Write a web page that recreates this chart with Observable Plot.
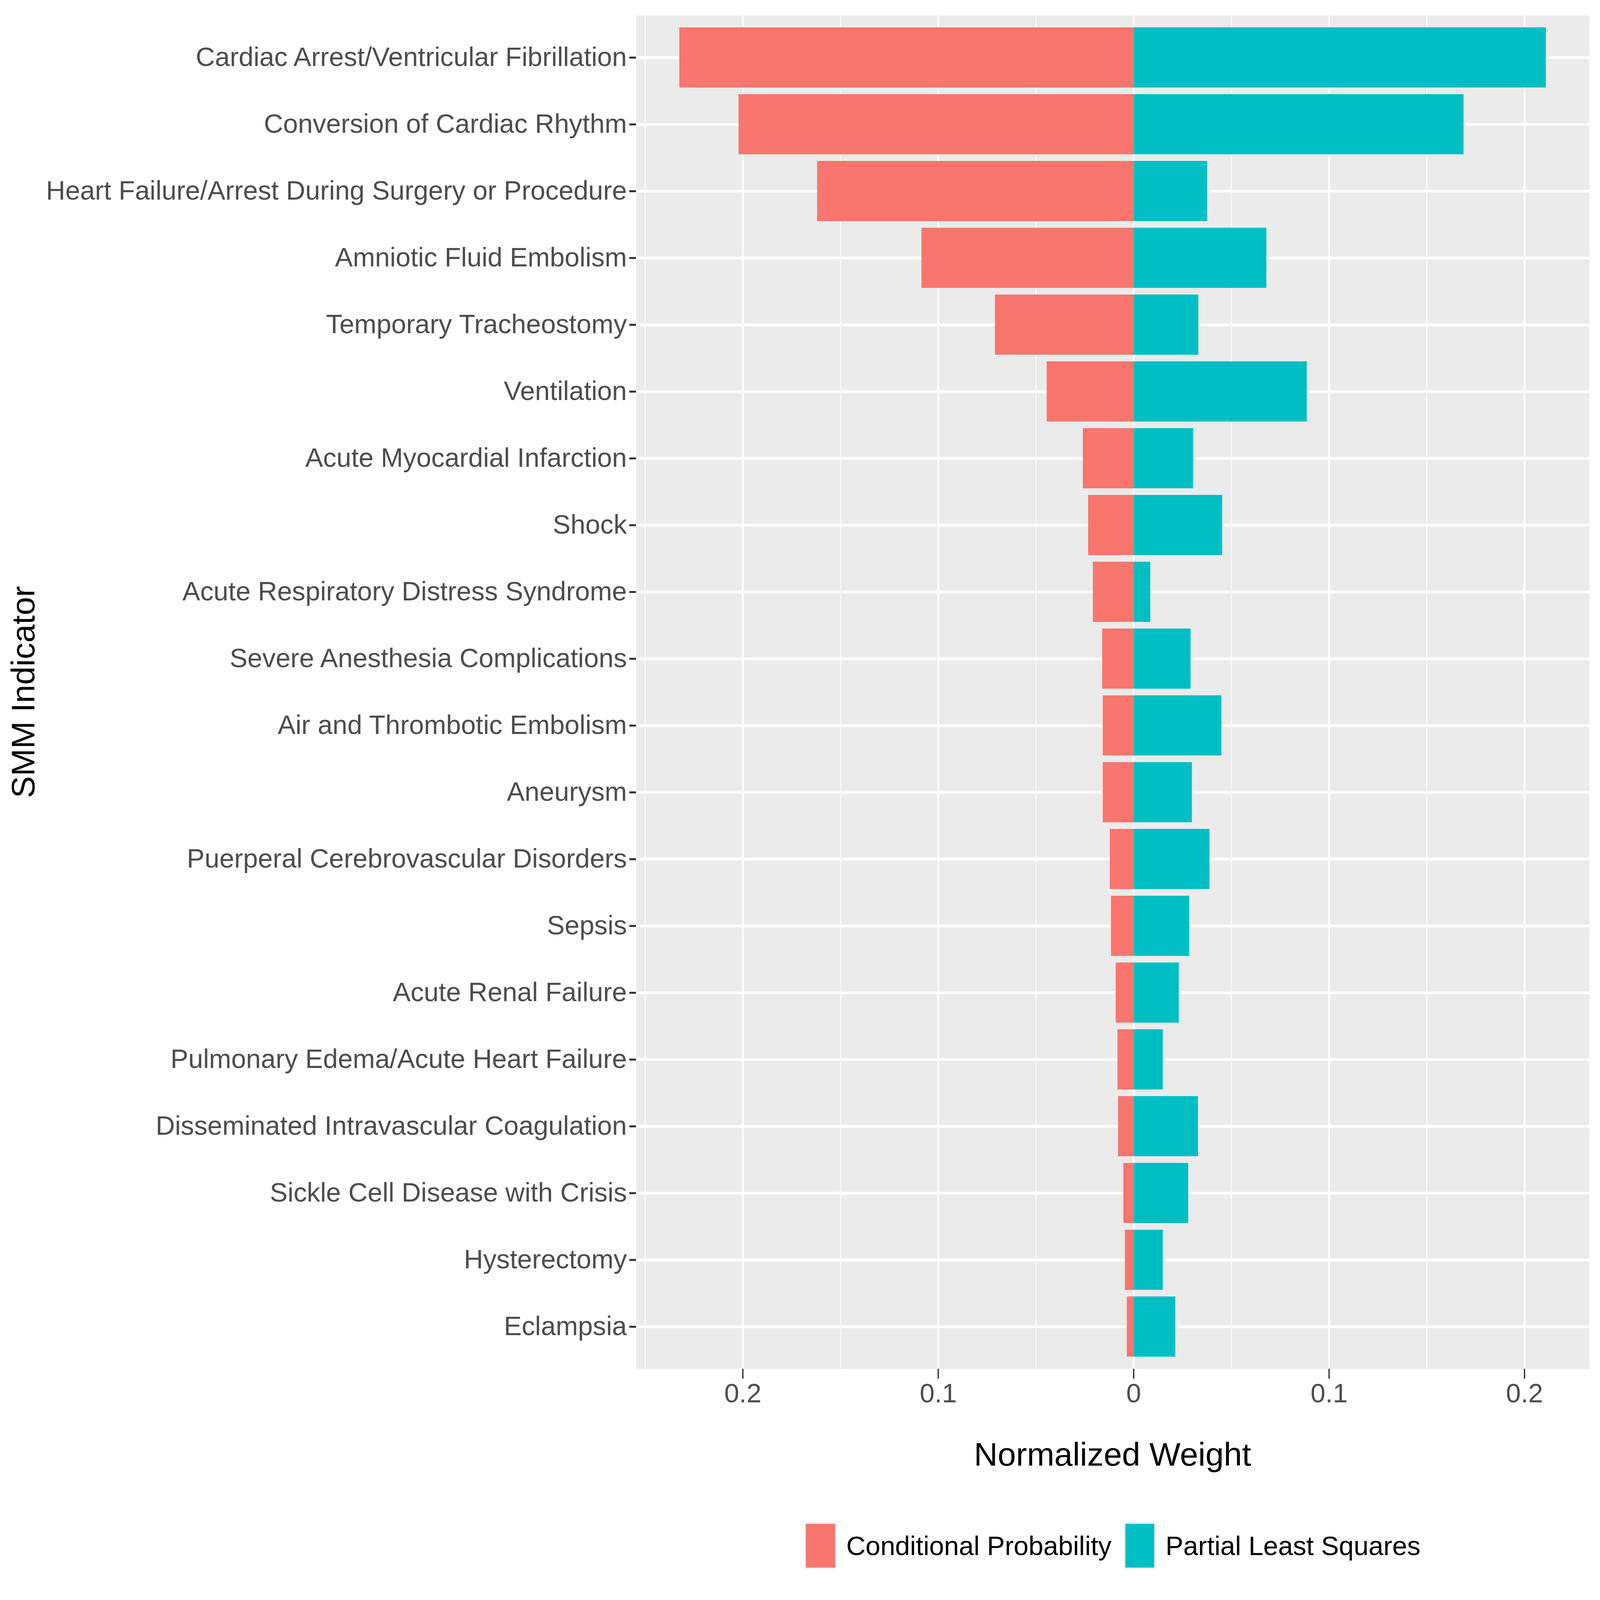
<!DOCTYPE html>
<html>
<head>
<meta charset="utf-8">
<script src="https://cdn.jsdelivr.net/npm/d3@7"></script>
<script src="https://cdn.jsdelivr.net/npm/@observablehq/plot@0.6"></script>
<style>
html, body { margin: 0; padding: 0; background: #ffffff; overflow: hidden; }
#chart { position: absolute; left: 0; top: 0; background: #ffffff;
  font-family: "Liberation Sans", Arial, Helvetica, sans-serif; }
#chart svg { max-width: none !important; display: block; }
#legend { position: absolute; transform: translateX(-50%);
  display: flex; align-items: center; white-space: nowrap; color: #000; line-height: 1; }
.key { background: #F2F2F2; display: flex; align-items: center; justify-content: center; }
.key span { display: block; }
</style>
</head>
<body>
<div id="chart"></div>
<script>
const indicators = [
  "Cardiac Arrest/Ventricular Fibrillation",
  "Conversion of Cardiac Rhythm",
  "Heart Failure/Arrest During Surgery or Procedure",
  "Amniotic Fluid Embolism",
  "Temporary Tracheostomy",
  "Ventilation",
  "Acute Myocardial Infarction",
  "Shock",
  "Acute Respiratory Distress Syndrome",
  "Severe Anesthesia Complications",
  "Air and Thrombotic Embolism",
  "Aneurysm",
  "Puerperal Cerebrovascular Disorders",
  "Sepsis",
  "Acute Renal Failure",
  "Pulmonary Edema/Acute Heart Failure",
  "Disseminated Intravascular Coagulation",
  "Sickle Cell Disease with Crisis",
  "Hysterectomy",
  "Eclampsia"
];
const conditionalProbability = [0.2324, 0.2021, 0.1619, 0.1085, 0.0709, 0.0444, 0.0259, 0.0232, 0.0208, 0.0160,
  0.0157, 0.0157, 0.0121, 0.0115, 0.0091, 0.0082, 0.0079, 0.0052, 0.0044, 0.0034];
const partialLeastSquares = [0.2110, 0.1689, 0.0377, 0.0680, 0.0332, 0.0887, 0.0305, 0.0454, 0.0086, 0.0292,
  0.0450, 0.0299, 0.0389, 0.0285, 0.0232, 0.0150, 0.0330, 0.0280, 0.0150, 0.0214];
const methods = ["Conditional Probability", "Partial Least Squares"];
const methodColors = ["#F8766D", "#00BFC4"];
const xTicks = [-0.2, -0.1, 0, 0.1, 0.2];
const xMinorTicks = [-0.25, -0.15, -0.05, 0.05, 0.15];
const xTickLabels = ["0.2", "0.1", "0", "0.1", "0.2"];
const xTitle = "Normalized Weight";
const yTitle = "SMM Indicator";

const rows = indicators.flatMap((name, i) => [
  {indicator: name, method: methods[0], value: -conditionalProbability[i]},
  {indicator: name, method: methods[1], value: partialLeastSquares[i]}
]);

const FONT = "'Liberation Sans', Arial, Helvetica, sans-serif";

// Design is laid out for a 7200 x 4800 page; adapt to the actual window.
const W = window.innerWidth || 7200;
const H = window.innerHeight || 4800;
const sx = W / 7200, sy = H / 4800;

const xMin = -d3.max(conditionalProbability);
const xMax = d3.max(partialLeastSquares);
const pad = (xMax - xMin) * 0.05;

const svg = Plot.plot({
  width: W,
  height: Math.round(4460 * sy),
  marginLeft: 2862 * sx,
  marginRight: 49 * sx,
  marginTop: 46 * sy,
  marginBottom: 354 * sy,
  style: {fontFamily: FONT, background: "#ffffff", overflow: "visible", maxWidth: "none"},
  x: {domain: [xMin - pad, xMax + pad]},
  y: {domain: indicators, paddingInner: 0.1, paddingOuter: 0.15},
  color: {domain: methods, range: methodColors},
  marks: [
    Plot.frame({fill: "#EBEBEB", stroke: "none"}),
    Plot.ruleX(xMinorTicks, {stroke: "#ffffff", strokeWidth: 4 * sx}),
    Plot.ruleX(xTicks, {stroke: "#ffffff", strokeWidth: 8 * sx}),
    Plot.gridY({stroke: "#ffffff", strokeOpacity: 1, strokeWidth: 8 * sy}),
    Plot.barX(rows, {x1: () => 0, x2: "value", y: "indicator", fill: "method", insetTop: 0, insetBottom: 0}),
    Plot.axisY({tickSize: 30 * sx, tickPadding: 12 * sx, stroke: "#333333", strokeWidth: 6 * sy, fill: "#4D4D4D",
      fontSize: 120 * sx, label: null}),
    Plot.axisX(xTicks, {tickSize: 30 * sy, tickPadding: 14 * sy, stroke: "#333333", strokeWidth: 6 * sx, fill: "#4D4D4D",
      fontSize: 120 * sx, label: null, tickFormat: d => xTickLabels[xTicks.indexOf(d)]})
  ]
});

const xr = svg.scale("x").range;
const yr = svg.scale("y").range;
const sel = d3.select(svg);
sel.append("text")
  .attr("transform", `translate(${155 * sx},${(yr[0] + yr[1]) / 2}) rotate(-90)`)
  .attr("text-anchor", "middle")
  .attr("font-size", 148 * sx)
  .attr("font-family", FONT)
  .attr("fill", "#000")
  .text(yTitle);
sel.append("text")
  .attr("x", (xr[0] + xr[1]) / 2)
  .attr("y", 4397 * sy)
  .attr("text-anchor", "middle")
  .attr("font-size", 148 * sx)
  .attr("font-family", FONT)
  .attr("fill", "#000")
  .text(xTitle);

const chart = document.getElementById("chart");
chart.style.width = W + "px";
chart.style.height = H + "px";
chart.appendChild(svg);

const legend = document.createElement("div");
legend.id = "legend";
legend.style.top = (4566 * sy) + "px";
legend.style.left = ((xr[0] + xr[1]) / 2) + "px";
legend.style.fontSize = (120 * sx) + "px";
methods.forEach((m, i) => {
  const key = document.createElement("div");
  key.className = "key";
  key.style.width = (142 * sx) + "px";
  key.style.height = (142 * sy) + "px";
  const sw = document.createElement("span");
  sw.style.background = methodColors[i];
  sw.style.width = (131 * sx) + "px";
  sw.style.height = (131 * sy) + "px";
  key.appendChild(sw);
  const lab = document.createElement("div");
  lab.textContent = m;
  lab.style.marginLeft = (45 * sx) + "px";
  if (i < methods.length - 1) lab.style.marginRight = (56 * sx) + "px";
  legend.appendChild(key);
  legend.appendChild(lab);
});
chart.appendChild(legend);
</script>
</body>
</html>
